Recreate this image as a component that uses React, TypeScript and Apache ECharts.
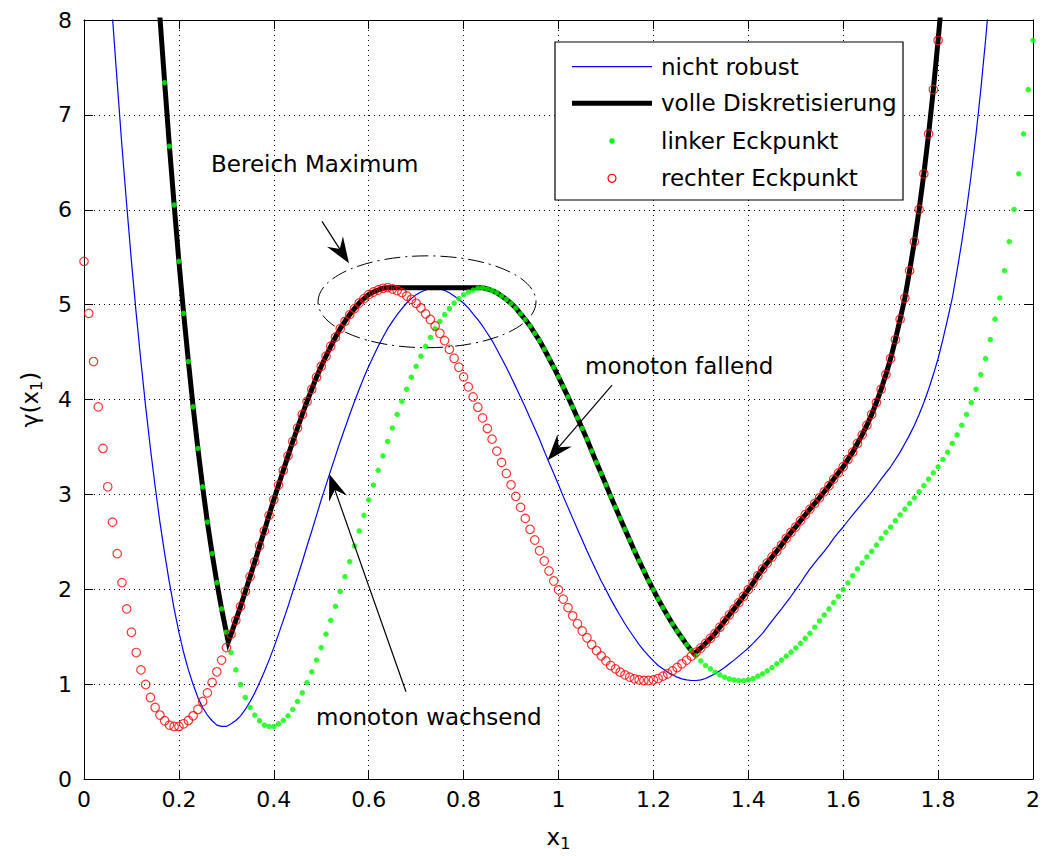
import React, { useEffect, useRef } from "react";
import * as echarts from "echarts";

// ---- data ----
// gamma(x1) of the non-robust design, sampled every 0.01 starting at x1 = 0.05
const schritt = 0.01;
const gammaStart = 0.05;
const nichtRobust = [
  8.8, 8.03, 7.34, 6.67, 6.05,
  5.456, 4.908, 4.40, 3.922, 3.484, 3.08, 2.708, 2.375, 2.07, 1.793,
  1.547, 1.333, 1.15, 0.996, 0.859, 0.754, 0.674, 0.614, 0.568, 0.554,
  0.554, 0.582, 0.617, 0.666, 0.733, 0.817, 0.908, 1.017, 1.13, 1.253,
  1.385, 1.527, 1.672, 1.82, 1.977, 2.132, 2.29, 2.456, 2.614, 2.779,
  2.943, 3.098, 3.253, 3.406, 3.558, 3.70, 3.842, 3.979, 4.108, 4.235,
  4.35, 4.456, 4.561, 4.656, 4.747, 4.824, 4.895, 4.958, 5.017, 5.063,
  5.105, 5.133, 5.154, 5.172, 5.179, 5.165, 5.149, 5.126, 5.091, 5.056,
  5.014, 4.965, 4.903, 4.843, 4.775, 4.698, 4.621, 4.529, 4.435, 4.34,
  4.238, 4.133, 4.027, 3.919, 3.806, 3.695, 3.582, 3.456, 3.337, 3.221,
  3.101, 2.979, 2.863, 2.747, 2.632, 2.519, 2.406, 2.298, 2.193, 2.087,
  1.994, 1.896, 1.806, 1.72, 1.636, 1.56, 1.489, 1.417, 1.354, 1.298,
  1.245, 1.196, 1.161, 1.126, 1.098, 1.074, 1.056, 1.045, 1.038, 1.038,
  1.045, 1.059, 1.084, 1.109, 1.14, 1.175, 1.214, 1.253, 1.295, 1.337,
  1.381, 1.43, 1.482, 1.535, 1.6, 1.666, 1.729, 1.793, 1.859, 1.926,
  1.996, 2.066, 2.143, 2.214, 2.277, 2.34, 2.4, 2.466, 2.537, 2.6,
  2.656, 2.722, 2.785, 2.845, 2.905, 2.964, 3.027, 3.091, 3.161, 3.227,
  3.291, 3.368, 3.445, 3.537, 3.627, 3.729, 3.842, 3.968, 4.108, 4.263,
  4.432, 4.631, 4.847, 5.07, 5.358, 5.663, 6.003, 6.379, 6.8, 7.266,
  7.786, 8.35,
];

// the corner points of the interval [x1 - 0.1, x1 + 0.1]
const halbeBreite = 0.1;

// full discretisation (worst case over the interval), every 0.01 from x1 = 0.15
const volleStart = 0.15;
const volleDiskretisierung = [
  8.8, 8.03, 7.34, 6.67, 6.05,
  5.456, 4.908, 4.40, 3.922, 3.484, 3.08, 2.708, 2.375, 2.07, 1.793,
  1.547, 1.527, 1.672, 1.82, 1.977, 2.132, 2.29, 2.456, 2.614, 2.779,
  2.943, 3.098, 3.253, 3.406, 3.558, 3.70, 3.842, 3.979, 4.108, 4.235,
  4.35, 4.456, 4.561, 4.656, 4.747, 4.824, 4.895, 4.958, 5.017, 5.063,
  5.105, 5.133, 5.154, 5.172, 5.179, 5.179, 5.179, 5.179, 5.179, 5.179,
  5.179, 5.179, 5.179, 5.179, 5.179, 5.179, 5.179, 5.179, 5.179, 5.179,
  5.179, 5.179, 5.179, 5.179, 5.179, 5.165, 5.149, 5.126, 5.091, 5.056,
  5.014, 4.965, 4.903, 4.843, 4.775, 4.698, 4.621, 4.529, 4.435, 4.34,
  4.238, 4.133, 4.027, 3.919, 3.806, 3.695, 3.582, 3.456, 3.337, 3.221,
  3.101, 2.979, 2.863, 2.747, 2.632, 2.519, 2.406, 2.298, 2.193, 2.087,
  1.994, 1.896, 1.806, 1.72, 1.636, 1.56, 1.489, 1.417, 1.354, 1.337,
  1.381, 1.43, 1.482, 1.535, 1.6, 1.666, 1.729, 1.793, 1.859, 1.926,
  1.996, 2.066, 2.143, 2.214, 2.277, 2.34, 2.4, 2.466, 2.537, 2.6,
  2.656, 2.722, 2.785, 2.845, 2.905, 2.964, 3.027, 3.091, 3.161, 3.227,
  3.291, 3.368, 3.445, 3.537, 3.627, 3.729, 3.842, 3.968, 4.108, 4.263,
  4.432, 4.631, 4.847, 5.07, 5.358, 5.663, 6.003, 6.379, 6.8, 7.266,
  7.786, 8.35,
];
// kinks of the thick curve where left and right corner cross
const knickpunkte = [
  [0.304, 1.444],
  [1.286, 1.32],
];

const xAchse = { min: 0, max: 2, interval: 0.2 };
const yAchse = { min: 0, max: 8, interval: 1 };

const legende = ["nicht robust", "volle Diskretisierung", "linker Eckpunkt", "rechter Eckpunkt"];

const beschriftungen = [
  { text: "Bereich Maximum", pos: [0.2677, 6.477] },
  { text: "monoton fallend", pos: [1.0558, 4.35] },
  { text: "monoton wachsend", pos: [0.489, 0.656] },
];
const pfeile = [
  { von: [0.5016, 5.877], nach: [0.5585, 5.435] },
  { von: [1.1128, 4.151], nach: [0.9772, 3.361] },
  { von: [0.6786, 0.919], nach: [0.517, 3.214] },
];
const bereichEllipse = { mitte: [0.7229, 5.03], rx: 0.2297, ry: 0.484 };

const r3 = (v: number) => Math.round(v * 1000) / 1000;
const FONT = "DejaVu Sans";

export default function App() {
  const ref = useRef<HTMLDivElement>(null);

  useEffect(() => {
    const chart = echarts.init(ref.current!, undefined, { renderer: "svg" });

    const blau = nichtRobust.map((y, i) => [r3(gammaStart + i * schritt), y]);
    const imBild = (p: number[]) => p[0] >= 0 && p[0] <= 2 && p[1] <= 8;
    const gruen = nichtRobust
      .map((y, i) => [r3(gammaStart + i * schritt + halbeBreite), y])
      .filter(imBild);
    const rot = nichtRobust
      .map((y, i) => [r3(gammaStart + i * schritt - halbeBreite), y])
      .filter(imBild);
    const schwarz = volleDiskretisierung
      .map((y, i) => [r3(volleStart + i * schritt), y])
      .concat(knickpunkte)
      .sort((a, b) => a[0] - b[0]);

    const subRich = {
      n: { fontSize: 23, fontFamily: FONT, color: "#000" },
      s: { fontSize: 16, fontFamily: FONT, color: "#000", padding: [12, 0, 0, 0] },
    };

    const gridLine = { show: true, lineStyle: { color: "#000", width: 1, type: [1, 4] } };
    const axisLine = { show: true, onZero: false, lineStyle: { color: "#000", width: 1 } };
    const axisTick = { show: true, inside: true, length: 9, lineStyle: { color: "#000", width: 1 } };
    const axisLabel = { color: "#000", fontSize: 22, fontFamily: FONT, showMinLabel: true, showMaxLabel: true };

    const option: any = {
      animation: false,
      backgroundColor: "#fff",
      textStyle: { fontFamily: FONT },
      grid: { left: 84, right: 10, top: 20, bottom: 76, containLabel: false },
      xAxis: [
        {
          type: "value", ...xAchse, position: "bottom",
          axisLine, axisTick, axisLabel: { ...axisLabel, margin: 9 },
          splitLine: gridLine,
          name: "{n|x}{s|1}", nameLocation: "middle", nameGap: 44,
          nameTextStyle: { rich: subRich },
        },
        {
          type: "value", ...xAchse, position: "top",
          axisLine, axisTick, axisLabel: { show: false }, splitLine: { show: false },
        },
      ],
      yAxis: [
        {
          type: "value", ...yAchse, position: "left",
          axisLine, axisTick, axisLabel: { ...axisLabel, margin: 12 },
          splitLine: gridLine,
          name: "{n|γ(x}{s|1}{n|)}", nameLocation: "middle", nameGap: 40,
          nameTextStyle: { rich: subRich },
        },
        {
          type: "value", ...yAchse, position: "right",
          axisLine, axisTick, axisLabel: { show: false }, splitLine: { show: false },
        },
      ],
      series: [
        {
          name: legende[0], type: "line", data: blau, symbol: "none", silent: true, z: 2,
          lineStyle: { color: "#0000ff", width: 1.2 }, clip: true,
        },
        {
          name: legende[1], type: "line", data: schwarz, symbol: "none", silent: true, z: 3,
          lineStyle: { color: "#000", width: 5, join: "miter" }, clip: true,
        },
        {
          name: legende[2], type: "scatter", data: gruen, symbol: "circle", symbolSize: 5.5, silent: true, z: 4,
          itemStyle: { color: "#00ff00" },
        },
        {
          name: legende[3], type: "scatter", data: rot, symbol: "circle", symbolSize: 8.5, silent: true, z: 5,
          itemStyle: { color: "rgba(0,0,0,0)", borderColor: "#ff0000", borderWidth: 1.2 },
        },
      ],
    };
    chart.setOption(option);

    const px = (p: number[]) =>
      chart.convertToPixel({ xAxisIndex: 0, yAxisIndex: 0 } as any, p) as unknown as number[];

    const elemente: any[] = [];

    // dash-dot ellipse around the maximum
    const c = px(bereichEllipse.mitte);
    const ex = px([bereichEllipse.mitte[0] + bereichEllipse.rx, bereichEllipse.mitte[1]]);
    const ey = px([bereichEllipse.mitte[0], bereichEllipse.mitte[1] + bereichEllipse.ry]);
    elemente.push({
      type: "ellipse", z: 50, silent: true,
      shape: { cx: c[0], cy: c[1], rx: Math.abs(ex[0] - c[0]), ry: Math.abs(c[1] - ey[1]) },
      style: { fill: "none", stroke: "#000", lineWidth: 1, lineDash: [16, 5, 2, 5] },
    });

    // arrows
    pfeile.forEach(({ von, nach }) => {
      const [x0, y0] = px(von);
      const [x1, y1] = px(nach);
      const dx = x1 - x0, dy = y1 - y0, len = Math.hypot(dx, dy);
      const ux = dx / len, uy = dy / len, nx = -uy, ny = ux;
      const L = 26, W = 9.5, K = 17;
      const bx = x1 - L * ux, by = y1 - L * uy;
      const kx = x1 - K * ux, ky = y1 - K * uy;
      elemente.push({
        type: "line", z: 50, silent: true,
        shape: { x1: x0, y1: y0, x2: kx, y2: ky },
        style: { stroke: "#000", lineWidth: 1.2 },
      });
      elemente.push({
        type: "polygon", z: 50, silent: true,
        shape: { points: [[x1, y1], [bx + W * nx, by + W * ny], [kx, ky], [bx - W * nx, by - W * ny]] },
        style: { fill: "#000" },
      });
    });

    // annotation texts
    beschriftungen.forEach(({ text, pos }) => {
      const [x, y] = px(pos);
      elemente.push({
        type: "text", z: 50, silent: true, x, y,
        style: { text, fill: "#000", fontSize: 23, fontFamily: FONT, align: "left", verticalAlign: "middle" },
      });
    });

    // legend box (MATLAB style)
    const lx = 555, ly = 42, lw = 348, lh = 158;
    const zeilen = [66.7, 103.3, 141, 178.3];
    elemente.push({
      type: "rect", z: 60, silent: true,
      shape: { x: lx, y: ly, width: lw, height: lh },
      style: { fill: "#fff", stroke: "#000", lineWidth: 1.2 },
    });
    elemente.push({
      type: "line", z: 61, silent: true,
      shape: { x1: 572, y1: zeilen[0], x2: 652, y2: zeilen[0] },
      style: { stroke: "#0000ff", lineWidth: 1.2 },
    });
    elemente.push({
      type: "line", z: 61, silent: true,
      shape: { x1: 572, y1: zeilen[1], x2: 652, y2: zeilen[1] },
      style: { stroke: "#000", lineWidth: 5 },
    });
    elemente.push({
      type: "circle", z: 61, silent: true,
      shape: { cx: 612, cy: zeilen[2], r: 2.75 },
      style: { fill: "#00ff00" },
    });
    elemente.push({
      type: "circle", z: 61, silent: true,
      shape: { cx: 612, cy: zeilen[3], r: 4 },
      style: { fill: "none", stroke: "#ff0000", lineWidth: 1.2 },
    });
    legende.forEach((name, i) => {
      elemente.push({
        type: "text", z: 61, silent: true, x: 661, y: zeilen[i],
        style: { text: name, fill: "#000", fontSize: 23, fontFamily: FONT, align: "left", verticalAlign: "middle" },
      });
    });

    chart.setOption({ graphic: { elements: elemente } });

    return () => chart.dispose();
  }, []);

  return (
    <div
      ref={ref}
      style={{ position: "fixed", left: 0, top: 0, width: 1043, height: 856, background: "#fff" }}
    />
  );
}
